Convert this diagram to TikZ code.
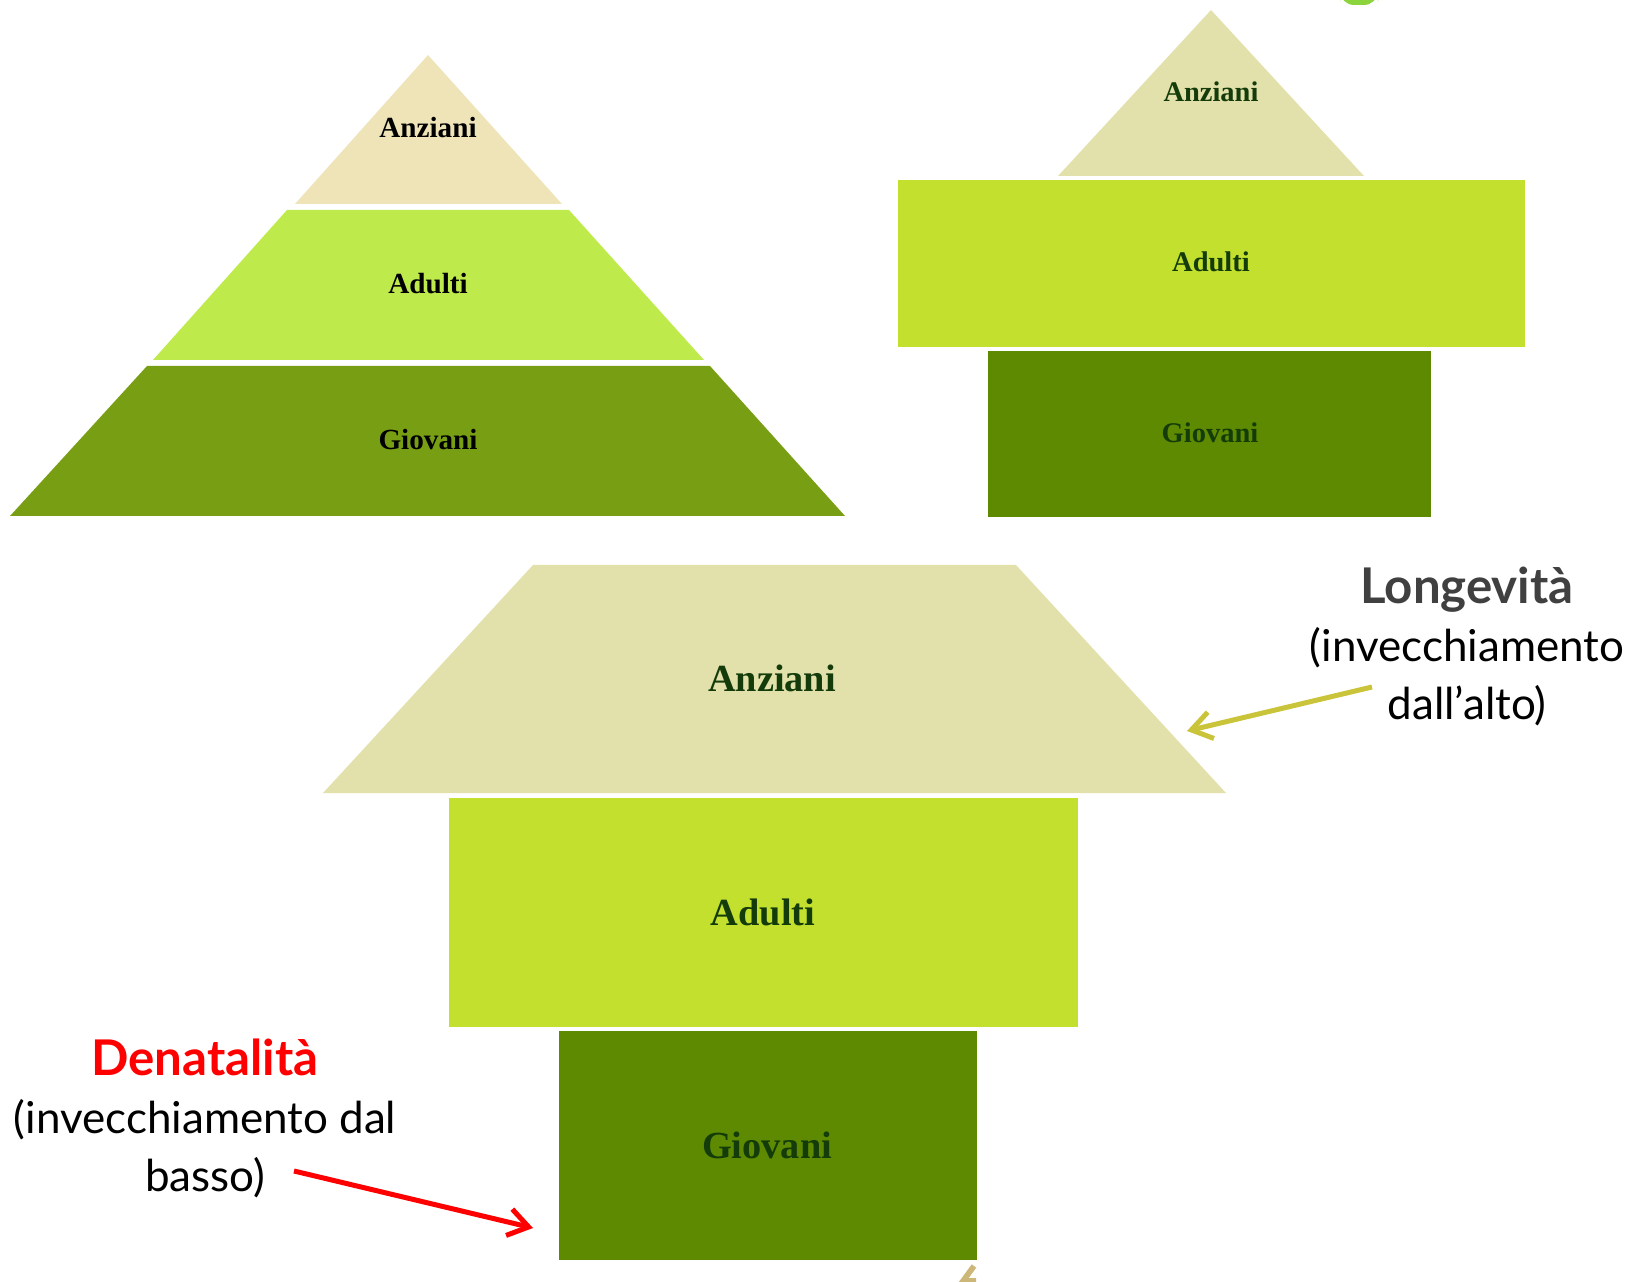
\documentclass[tikz,border=0pt]{standalone}
\usepackage{fontspec}
\setmainfont{Liberation Serif}
\newfontfamily\gillfont{Lato}
\usetikzlibrary{arrows.meta, positioning}

\definecolor{anzianiold}{HTML}{EFE4B8}
\definecolor{adultiold}{HTML}{BEEB4B}
\definecolor{giovaniold}{HTML}{789F14}
\definecolor{anzianinew}{HTML}{E2E1AB}
\definecolor{adultinew}{HTML}{C2E02D}
\definecolor{giovaninew}{HTML}{5D8A00}
\definecolor{labelgreen}{HTML}{143C0A}
\definecolor{longarrow}{HTML}{C9C43A}
\definecolor{longtext}{HTML}{404040}
\definecolor{cutgreen}{HTML}{8BD43C}
\definecolor{cuttan}{HTML}{CDB778}

\begin{document}
\begin{tikzpicture}[x=0.01cm, y=-0.01cm]
\tikzstyle{old label}=[font=\bfseries\fontsize{8.3}{10}\selectfont, text=black]
\tikzstyle{mid label}=[font=\bfseries\fontsize{8.1}{10}\selectfont, text=labelgreen]
\tikzstyle{new label}=[font=\bfseries\fontsize{10.9}{13}\selectfont, text=labelgreen]
\tikzstyle{note}=[font=\gillfont\fontsize{12.5}{16.5}\selectfont, align=center]
\tikzstyle{note arrow}=[line width=0.05cm, -{Straight Barb[length=0.2cm, width=0.27cm]}]

\useasboundingbox (0,0) rectangle (1632,1282);

% piramide progressiva (sinistra)
\fill[anzianiold] (428,55) -- (562,204) -- (295,204) -- cycle;
\fill[adultiold] (287,210) -- (569,210) -- (704,360) -- (153,360) -- cycle;
\fill[giovaniold] (147,366) -- (710,366) -- (845,516) -- (10,516) -- cycle;
\node[old label] (A1) at (428,128) {Anziani};
\node[old label] (B1) at (428,284) {Adulti};
\node[old label] (C1) at (428,440) {Giovani};

% piramide stazionaria (destra)
\fill[anzianinew] (1211,10) -- (1364,176) -- (1058,176) -- cycle;
\fill[adultinew] (898,180) rectangle (1525,347);
\fill[giovaninew] (988,351) rectangle (1431,517);
\node[mid label] (A2) at (1211,92) {Anziani};
\node[mid label] (B2) at (1211,262) {Adulti};
\node[mid label] (C2) at (1210,433) {Giovani};

% resto tagliato in alto
\fill[cutgreen, rounded corners=4] (1340,-12) rectangle (1378,5);
\fill[white, rounded corners=3] (1349,-12) rectangle (1369,0);

% piramide regressiva (basso)
\fill[anzianinew] (533,565) -- (1016,565) -- (1226,793) -- (323,793) -- cycle;
\fill[adultinew] (449,798) rectangle (1078,1027);
\fill[giovaninew] (559,1031) rectangle (977,1260);
\node[new label] (A3) at (772,678) {Anziani};
\node[new label] (B3) at (763,912) {Adulti};
\node[new label] (C3) at (767,1145) {Giovani};

% segno tagliato in basso
\draw[cuttan, line width=1.6pt] (974,1266) -- (963,1281) -- (976,1281);

% note
\node[note] (longlbl) at (1467,646) {{\fontsize{14}{16.5}\selectfont\bfseries\color{longtext}Longevità}\\(invecchiamento\\dall’alto)};
\node[note] (denlbl) at (205,1118) {{\fontsize{14}{16.5}\selectfont\bfseries\color{red}Denatalità}\\(invecchiamento dal\\basso)};

\coordinate (longtail) at (1372,687);
\coordinate (longtip) at (1187,731);
\coordinate (dentail) at (294,1171);
\coordinate (dentip) at (533,1228);
\draw[note arrow, longarrow] (longtail) -- (longtip);
\draw[note arrow, red] (dentail) -- (dentip);

\end{tikzpicture}
\end{document}
